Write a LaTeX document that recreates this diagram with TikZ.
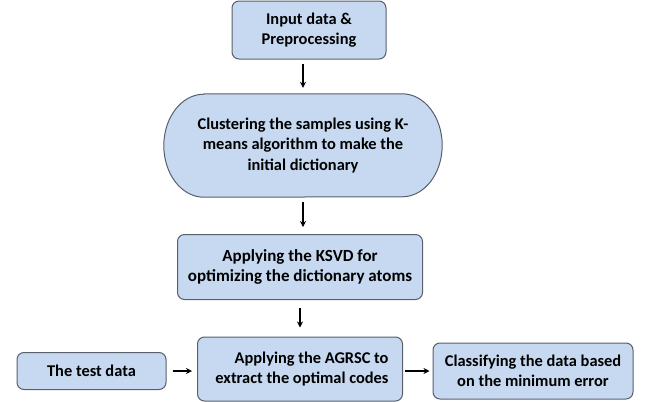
\documentclass[tikz,border=0pt]{standalone}
\usepackage{fontspec}
\setmainfont{Carlito}
\usetikzlibrary{arrows.meta,backgrounds}
\definecolor{boxblue}{RGB}{198,217,240}
\definecolor{boxline}{RGB}{88,96,108}

\begin{document}
\begin{tikzpicture}[x=1pt, y=-1pt,
  main node/.style={rectangle, rounded corners=7pt, draw=boxline, line width=1pt, fill=boxblue, align=center, inner sep=0pt},
  flow/.style={->, >={Stealth[length=6pt,width=6pt]}, line width=1.8pt, black}]
  \tikzstyle{every node}=[font=\fontsize{16.4}{20.5}\selectfont\bfseries]

  \useasboundingbox (0,0) rectangle (646,402);

  \node[main node, minimum width=154pt, minimum height=58pt] (1) at (309,30) {Input data \&\\Preprocessing};
  \node[align=center, inner sep=0pt, minimum width=278pt, minimum height=103pt] (2) at (303,145.5) {Clustering the samples using K-\\means algorithm to make the\\initial dictionary};
  \node[main node, minimum width=245pt, minimum height=65pt, font=\fontsize{17}{20.5}\selectfont\bfseries] (3) at (300,267) {Applying the KSVD for\\optimizing the dictionary atoms};
  \node[main node, minimum width=149pt, minimum height=37pt] (4) at (91.5,371) {The test data};
  \node[main node, minimum width=205pt, minimum height=64pt, align=right] (5) at (300,369) {Applying the AGRSC to\\\rule{4pt}{0pt}extract the optimal codes};
  \node[main node, minimum width=200pt, minimum height=56pt] (6) at (533,371) {Classifying the data based\\on the minimum error};

  % terminator shape behind node 2
  \begin{scope}[on background layer]
    \draw[draw=boxline, line width=1pt, fill=boxblue]
      ([xshift=40pt]2.north west) -- ([xshift=-40pt]2.north east)
      arc[start angle=90, end angle=-90, x radius=40pt, y radius=51.5pt]
      -- ([xshift=40pt]2.south west)
      arc[start angle=270, end angle=90, x radius=40pt, y radius=51.5pt] -- cycle;
  \end{scope}

  \path[flow]
    (1.south -| 2.north) edge[shorten <=4pt, shorten >=6pt] (2.north)
    (2.south) edge[shorten <=5pt, shorten >=7pt] (2.south |- 3.north)
    (3.south) edge[shorten <=8pt, shorten >=9pt] (3.south |- 5.north)
    (4.east) edge[shorten <=6pt, shorten >=5pt] (4.east -| 5.west)
    (5.east |- 6.west) edge[shorten <=2pt, shorten >=3pt] (6.west);
\end{tikzpicture}
\end{document}
